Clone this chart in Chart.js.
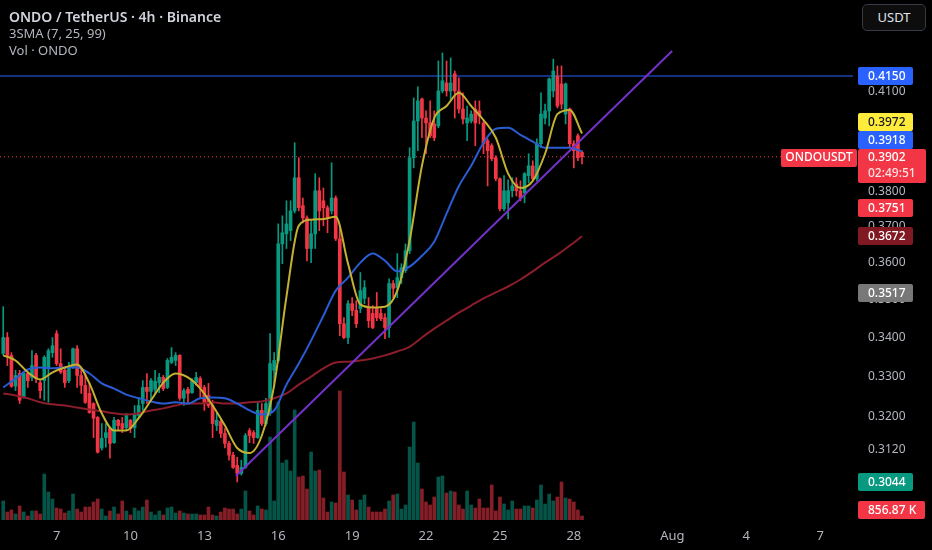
<!DOCTYPE html>
<html>
<head>
<meta charset="utf-8">
<script src="https://cdn.jsdelivr.net/npm/chart.js@4.4.1/dist/chart.umd.min.js"></script>
<style>
  html, body { margin: 0; padding: 0; background: #000; }
  #wrap { position: relative; width: 932px; height: 550px; overflow: hidden; font-family: "Noto Sans", sans-serif; }
  #legend { position: absolute; left: 9px; top: 8px; line-height: 17px; }
  #legend .t1 { color: #d1d4dc; font-size: 14px; font-weight: 600; }
  #legend .t2 { color: #b2b5be; font-size: 13px; }
  #cur { position: absolute; left: 862px; top: 4px; width: 62px; height: 25px; border: 1px solid #363a45;
         border-radius: 5px; background: #0d0d0d; color: #e0e3eb; font-size: 13px; line-height: 25px; text-align: center; }
</style>
</head>
<body>
<div id="wrap">
  <canvas id="chart" width="932" height="550"></canvas>
  <div id="legend">
    <div class="t1">ONDO / TetherUS · 4h · Binance</div>
    <div class="t2">3SMA (7, 25, 99)</div>
    <div class="t2">Vol · ONDO</div>
  </div>
  <div id="cur">USDT</div>
</div>
<script>
// 4h candles, first one at Jul 4 ~20:00 (x axis is in days of July)
const START_DAY = 4.833;
const STEP = 1 / 6;

const opens = [
  .3358,.3399,.3353,.3275,.3307,.3247,.3307,.3297,.3353,.3284,
  .3289,.3320,.3360,.3409,.3332,.3315,.3289,.3322,.3370,.3302,
  .3277,.3257,.3232,.3198,.3124,.3149,.3171,.3137,.3191,.3183,
  .3173,.3191,.3173,.3203,.3232,.3272,.3262,.3267,.3284,.3297,
  .3272,.3335,.3340,.3353,.3245,.3267,.3259,.3284,.3294,.3272,
  .3252,.3227,.3178,.3188,.3159,.3135,.3107,.3083,.3064,.3078,
  .3166,.3161,.3149,.3215,.3183,.3208,.3315,.3340,.3651,.3679,
  .3688,.3744,.3840,.3759,.3724,.3638,.3679,.3802,.3773,.3753,
  .3744,.3781,.3665,.3435,.3399,.3488,.3470,.3475,.3502,.3478,
  .3462,.3478,.3462,.3451,.3425,.3542,.3531,.3558,.3577,.3632,
  .3899,.4010,.4078,.4019,.4004,.4001,.3995,.4103,.4128,.4103,
  .4157,.4103,.4047,.4004,.4010,.4047,.4041,.4004,.3950,.3935,
  .3899,.3837,.3750,.3767,.3802,.3822,.3802,.3796,.3846,.3875,
  .3837,.3941,.4019,.4041,.4103,.4150,.4125,.4031,.4047,.3941,
  .3965,.3915
];
const highs = [
  .3480,.3412,.3360,.3315,.3315,.3310,.3310,.3365,.3358,.3289,
  .3352,.3370,.3399,.3417,.3370,.3320,.3335,.3372,.3378,.3322,
  .3307,.3284,.3234,.3200,.3183,.3183,.3173,.3198,.3193,.3198,
  .3208,.3193,.3227,.3247,.3289,.3307,.3294,.3315,.3307,.3302,
  .3345,.3373,.3360,.3355,.3269,.3272,.3294,.3310,.3299,.3277,
  .3282,.3240,.3210,.3196,.3171,.3140,.3114,.3102,.3095,.3159,
  .3171,.3166,.3235,.3232,.3245,.3409,.3360,.3707,.3730,.3773,
  .3773,.3944,.3899,.3781,.3730,.3716,.3852,.3840,.3810,.3759,
  .3884,.3787,.3696,.3451,.3496,.3504,.3496,.3572,.3550,.3504,
  .3483,.3518,.3475,.3462,.3555,.3550,.3624,.3596,.3651,.3929,
  .4081,.4116,.4081,.4041,.4072,.4041,.4198,.4224,.4198,.4208,
  .4166,.4144,.4097,.4056,.4041,.4072,.4072,.4010,.3956,.3941,
  .3905,.3840,.3846,.3834,.3840,.3840,.3831,.3855,.3911,.3890,
  .3956,.4097,.4062,.4144,.4204,.4182,.4182,.4128,.4050,.3950,
  .3971,.3920
];
const lows = [
  .3353,.3327,.3272,.3264,.3232,.3245,.3272,.3289,.3284,.3245,
  .3240,.3235,.3348,.3327,.3307,.3272,.3284,.3320,.3272,.3257,
  .3232,.3208,.3149,.3112,.3119,.3126,.3100,.3135,.3166,.3161,
  .3166,.3161,.3149,.3196,.3215,.3232,.3240,.3257,.3259,.3264,
  .3269,.3332,.3327,.3240,.3227,.3232,.3257,.3277,.3247,.3215,
  .3222,.3149,.3166,.3149,.3124,.3095,.3076,.3044,.3060,.3076,
  .3137,.3135,.3147,.3178,.3178,.3203,.3272,.3335,.3596,.3638,
  .3660,.3738,.3744,.3710,.3604,.3599,.3638,.3688,.3702,.3682,
  .3735,.3660,.3404,.3396,.3383,.3456,.3425,.3464,.3488,.3425,
  .3422,.3443,.3443,.3396,.3399,.3504,.3504,.3542,.3572,.3624,
  .3869,.3920,.3959,.3911,.3959,.3950,.3989,.4097,.4087,.4072,
  .4019,.4034,.4001,.3950,.4004,.3935,.4001,.3911,.3816,.3890,
  .3831,.3744,.3744,.3721,.3784,.3787,.3773,.3767,.3825,.3831,
  .3831,.3929,.4001,.3995,.4084,.4050,.4047,.4001,.3929,.3869,
  .3890,.3881
];
const closes = [
  .3399,.3353,.3275,.3302,.3240,.3307,.3289,.3327,.3294,.3264,
  .3348,.3365,.3378,.3332,.3310,.3284,.3322,.3370,.3302,.3277,
  .3235,.3210,.3196,.3114,.3147,.3161,.3135,.3191,.3178,.3171,
  .3203,.3171,.3208,.3227,.3272,.3262,.3289,.3287,.3297,.3269,
  .3340,.3348,.3353,.3245,.3264,.3257,.3289,.3297,.3272,.3235,
  .3227,.3183,.3191,.3159,.3135,.3107,.3078,.3064,.3078,.3154,
  .3154,.3149,.3215,.3183,.3232,.3332,.3340,.3651,.3682,.3707,
  .3744,.3840,.3753,.3724,.3638,.3679,.3802,.3744,.3753,.3724,
  .3781,.3665,.3435,.3399,.3488,.3470,.3435,.3523,.3531,.3443,
  .3425,.3451,.3448,.3425,.3542,.3529,.3558,.3585,.3632,.3899,
  .4010,.4072,.4019,.4004,.3965,.3959,.4103,.4135,.4103,.4128,
  .4103,.4047,.4016,.4019,.4031,.4004,.4025,.3941,.3920,.3896,
  .3837,.3750,.3802,.3802,.3816,.3802,.3781,.3852,.3875,.3837,
  .3941,.4031,.4041,.4141,.4166,.4056,.4062,.4125,.3941,.3920,
  .3899,.3902
];
// volume in millions of ONDO
const volumes = [
  4.07,1.71,2.14,1.28,3.00,1.71,0.86,1.93,1.93,1.28,
  9.84,5.99,4.49,2.57,2.35,1.50,1.93,5.56,2.35,1.71,
  2.78,2.78,3.85,4.49,2.35,0.86,1.93,2.78,1.28,4.07,
  1.93,1.07,2.57,1.93,2.78,4.28,1.71,1.07,1.93,1.07,
  2.57,2.78,1.50,1.93,1.50,1.28,1.28,1.28,1.07,1.07,
  2.78,1.07,0.86,1.71,2.57,2.35,2.35,1.28,2.35,6.21,
  1.93,1.07,3.00,2.35,2.14,17.76,4.07,25.25,12.20,12.84,
  10.49,23.54,9.20,9.42,6.63,14.55,10.49,10.70,4.71,1.71,
  3.85,3.64,27.61,10.27,5.35,4.28,2.14,4.28,5.35,2.78,
  1.71,1.71,1.71,2.35,4.07,5.35,5.56,2.35,3.21,15.62,
  20.97,12.20,6.63,3.85,3.21,4.92,9.20,9.42,5.78,6.21,
  5.99,3.21,2.35,6.21,3.21,2.57,4.49,2.57,2.57,7.49,
  1.93,4.92,3.42,2.14,4.07,2.35,2.35,3.00,3.00,2.57,
  4.28,7.49,3.42,5.56,4.07,4.92,8.13,4.71,4.49,3.85,
  2.14,0.857
];

// SMA lines every third candle
const smaIdx = [0,3,6,9,12,15,18,21,24,27,30,33,36,39,42,45,48,51,54,57,60,63,66,69,
                72,75,78,81,84,87,90,93,96,99,102,105,108,111,114,117,120,123,126,129,132,135,138,141];
const sma7 = [.3353,.3340,.3310,.3292,.3310,.3322,.3330,.3282,.3208,.3166,
              .3166,.3196,.3240,.3284,.3307,.3297,.3269,.3227,.3178,.3124,
              .3112,.3154,.3277,.3507,.3702,.3719,.3721,.3727,.3596,.3486,
              .3478,.3480,.3523,.3660,.3875,.4019,.4056,.4097,.4056,.4013,
              .3959,.3852,.3810,.3831,.3911,.4031,.4044,.3972];
const sma25 = [.3272,.3294,.3317,.3322,.3320,.3322,.3322,.3307,.3282,.3269,
               .3254,.3245,.3237,.3232,.3235,.3232,.3245,.3247,.3245,.3232,
               .3215,.3205,.3215,.3279,.3332,.3391,.3456,.3523,.3558,.3599,
               .3624,.3604,.3575,.3588,.3618,.3657,.3736,.3816,.3875,.3944,
               .3986,.3989,.3968,.3947,.3929,.3929,.3929,.3918];
const sma99 = [.3257,.3252,.3245,.3235,.3230,.3227,.3222,.3217,.3213,.3208,
               .3205,.3208,.3215,.3220,.3227,.3232,.3232,.3235,.3232,.3232,
               .3235,.3237,.3245,.3257,.3279,.3299,.3320,.3335,.3337,.3340,
               .3345,.3353,.3363,.3375,.3399,.3422,.3443,.3464,.3483,.3502,
               .3518,.3534,.3553,.3575,.3599,.3621,.3646,.3672];

// drawings
const trendDays = [14.28, 31.99];
const trendPrices = [0.3058, 0.4230];
const levelPrice = 0.4150;
const lastPrice = 0.3902;
const countdown = '02:49:51';
const lastVolumeText = '856.87 K';

// axis ticks
const tickDays = [7, 10, 13, 16, 19, 22, 25, 28, 32, 35, 38];
const tickLabels = ['7', '10', '13', '16', '19', '22', '25', '28', 'Aug', '4', '7'];
const priceTicks = [0.312, 0.32, 0.33, 0.34, 0.35, 0.36, 0.37, 0.38, 0.39, 0.40, 0.41];

// right axis price tags
const tagValues = [0.4150, 0.3972, 0.3918, 0.3751, 0.3672, 0.3517, 0.3044];
const tagBg = ['#2962ff', '#ffeb3b', '#2962ff', '#f23645', '#801922', '#787878', '#089981'];
const tagFg = ['#ffffff', '#131722', '#ffffff', '#ffffff', '#ffffff', '#ffffff', '#ffffff'];

const X_MIN = 4.702, X_MAX = 39.335;
const Y_MIN = 0.2957, Y_MAX = 0.4398;
const VOL_MAX = 111.3;
const FONT = '"Noto Sans", sans-serif';
const UP = '#089981', DOWN = '#f23645';

const day = i => START_DAY + i * STEP;
const isUp = closes.map((c, i) => c >= opens[i]);
const candleColor = isUp.map(u => (u ? UP : DOWN));
const volColor = isUp.map(u => (u ? 'rgba(8,153,129,0.55)' : 'rgba(242,54,69,0.55)'));

const line = (pts, color, width, order, extra) => Object.assign({
  type: 'line', data: pts, borderColor: color, borderWidth: width, pointRadius: 0,
  yAxisID: 'y', order: order
}, extra || {});

const tagPlugin = {
  id: 'tags',
  afterDraw(chart) {
    const ctx = chart.ctx, ys = chart.scales.y, vs = chart.scales.yv, area = chart.chartArea;
    const bx = area.right + 5, H = 18;
    const box = (x, y, w, h, bg) => {
      ctx.fillStyle = bg; ctx.beginPath(); ctx.roundRect(x, y, w, h, 2); ctx.fill();
    };
    const lp = Math.round(ys.getPixelForValue(lastPrice));
    // tags above the last price get pushed up so they don't overlap, like TradingView
    const centers = tagValues.map(v => ys.getPixelForValue(v));
    let top = lp - 8;
    tagValues.map((v, k) => k).filter(k => tagValues[k] > lastPrice)
      .sort((a, b) => tagValues[a] - tagValues[b])
      .forEach(k => {
        centers[k] = Math.min(centers[k], top - H / 2);
        top = centers[k] - H / 2;
      });
    ctx.save();
    ctx.textBaseline = 'middle';
    ctx.textAlign = 'left';
    ctx.font = '500 12px ' + FONT;
    tagValues.forEach((v, k) => {
      const py = Math.round(centers[k]);
      box(bx, py - H / 2, 55, H, tagBg[k]);
      ctx.fillStyle = tagFg[k];
      ctx.fillText(v.toFixed(4), bx + 10, py + 1);
    });
    // last price with countdown + symbol tag
    box(bx, lp - 8, 68, 34, DOWN);
    ctx.fillStyle = '#ffffff';
    ctx.fillText(lastPrice.toFixed(4), bx + 10, lp + 1);
    ctx.fillStyle = 'rgba(255,255,255,0.85)';
    ctx.fillText(countdown, bx + 10, lp + 17);
    box(area.right - 72, lp - 8, 76, 18, DOWN);
    ctx.fillStyle = '#ffffff';
    ctx.textAlign = 'center';
    ctx.fillText('ONDOUSDT', area.right - 34, lp + 1);
    // last volume tag
    const vp = Math.min(Math.round(vs.getPixelForValue(volumes[volumes.length - 1])), area.bottom - 10);
    box(bx, vp - 9, 67, 18, DOWN);
    ctx.fillStyle = '#ffffff';
    ctx.textAlign = 'left';
    ctx.fillText(lastVolumeText, bx + 10, vp + 1);
    ctx.restore();
  }
};

new Chart(document.getElementById('chart').getContext('2d'), {
  data: {
    datasets: [
      line(trendDays.map((d, k) => ({ x: d, y: trendPrices[k] })), '#7431c9', 2, 0),
      line(smaIdx.map((i, k) => ({ x: day(i), y: sma7[k] })), '#c4b132', 2, 1, { cubicInterpolationMode: 'monotone' }),
      line(smaIdx.map((i, k) => ({ x: day(i), y: sma25[k] })), '#2a5cd3', 2, 1, { cubicInterpolationMode: 'monotone' }),
      line(smaIdx.map((i, k) => ({ x: day(i), y: sma99[k] })), '#8c1d2a', 2, 1, { cubicInterpolationMode: 'monotone' }),
      {
        type: 'bar', yAxisID: 'y', order: 2, grouped: false, barThickness: 3, minBarLength: 1,
        data: opens.map((o, i) => ({ x: day(i), y: [o, closes[i]] })),
        backgroundColor: candleColor
      },
      {
        type: 'bar', yAxisID: 'y', order: 3, grouped: false, barThickness: 1,
        data: lows.map((l, i) => ({ x: day(i), y: [l, highs[i]] })),
        backgroundColor: candleColor
      },
      line([{ x: X_MIN, y: levelPrice }, { x: X_MAX, y: levelPrice }], '#2962ff', 1, 4),
      line([{ x: X_MIN, y: lastPrice }, { x: X_MAX, y: lastPrice }], DOWN, 1, 4, { borderDash: [1, 3] }),
      {
        type: 'bar', yAxisID: 'yv', order: 5, grouped: false, barThickness: 3,
        data: volumes.map((v, i) => ({ x: day(i), y: v })),
        backgroundColor: volColor
      }
    ]
  },
  options: {
    responsive: false,
    animation: false,
    layout: { padding: 0 },
    plugins: { legend: { display: false }, tooltip: { enabled: false } },
    scales: {
      x: {
        type: 'linear', min: X_MIN, max: X_MAX, bounds: 'data', offset: false,
        grid: { display: false, drawTicks: false }, border: { display: false },
        afterBuildTicks: s => { s.ticks = tickDays.map(v => ({ value: v })); },
        afterFit: s => { s.height = 30; s.paddingLeft = 0; s.paddingRight = 0; },
        ticks: {
          autoSkip: false, maxRotation: 0, padding: 8, color: '#b2b5be',
          font: { family: FONT, size: 13 },
          callback: (v, i) => tickLabels[i]
        }
      },
      y: {
        type: 'logarithmic', position: 'right', min: Y_MIN, max: Y_MAX, bounds: 'data',
        grid: { display: false, drawTicks: false }, border: { display: false },
        afterBuildTicks: s => { s.ticks = priceTicks.map(v => ({ value: v })); },
        afterFit: s => { s.width = 79; s.paddingTop = 0; s.paddingBottom = 0; },
        ticks: {
          autoSkip: false, padding: 15, color: '#b2b5be',
          font: { family: FONT, size: 12 },
          callback: v => Number(v).toFixed(4)
        }
      },
      yv: { type: 'linear', display: false, min: 0, max: VOL_MAX, bounds: 'data' }
    }
  },
  plugins: [tagPlugin]
});
</script>
</body>
</html>
